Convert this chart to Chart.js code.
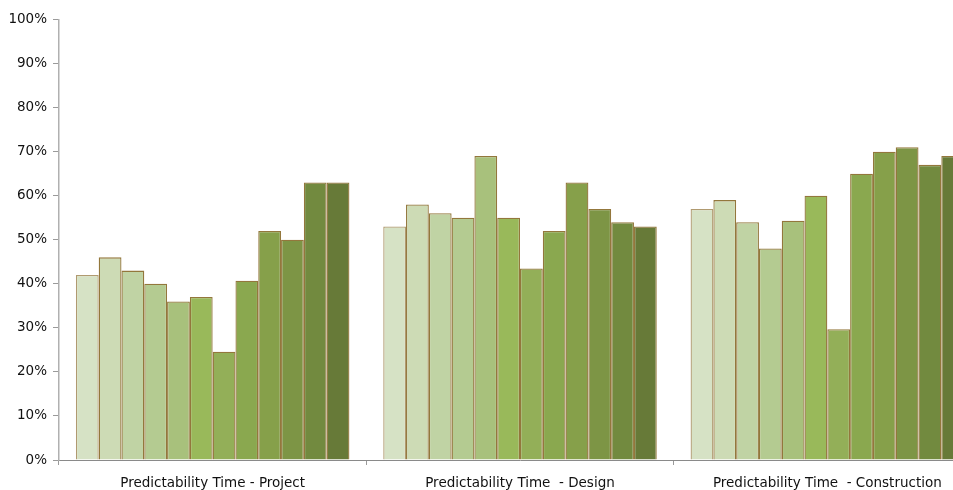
<!DOCTYPE html>
<html>
<head>
<meta charset="utf-8">
<script src="https://cdn.jsdelivr.net/npm/chart.js@4/dist/chart.umd.min.js"></script>
<style>
  html, body { margin: 0; padding: 0; background: #fff; overflow: hidden; }
  #wrap { position: relative; width: 985px; height: 490px; }
</style>
</head>
<body>
<div id="wrap"><canvas id="chart"></canvas></div>
<script>
// Categories along the x axis
const categories = [
  'Predictability Time - Project',
  'Predictability Time  - Design',
  'Predictability Time  - Construction'
];

// Twelve series, one bar per category each (percent)
const series01 = [42.0, 53.0, 57.0];
const series02 = [46.0, 58.0, 59.0];
const series03 = [43.0, 56.0, 54.0];
const series04 = [40.0, 55.0, 48.0];
const series05 = [36.0, 69.0, 54.3];
const series06 = [37.0, 55.0, 60.0];
const series07 = [24.6, 43.5, 29.7];
const series08 = [40.7, 52.0, 65.0];
const series09 = [52.0, 63.0, 70.0];
const series10 = [50.0, 57.0, 71.0];
const series11 = [63.0, 54.0, 67.0];
const series12 = [63.0, 53.0, 69.0];

// Percent tick labels on the value axis
const yTicks = [0, 10, 20, 30, 40, 50, 60, 70, 80, 90, 100];

const allSeries = [series01, series02, series03, series04, series05, series06,
                   series07, series08, series09, series10, series11, series12];

// Light-to-dark green ramp
const fills = ['#d6e2c5', '#cddbb5', '#c0d3a4', '#b4cb91', '#a8c17c', '#99b95a',
               '#93af58', '#8aa84f', '#86a04a', '#7d9545', '#728a3f', '#677a38'];

const datasets = allSeries.map((vals, i) => ({
  label: 'Series ' + (i + 1),
  data: vals,
  backgroundColor: fills[i],
  borderColor: i === 0 ? '#b09a70' : '#93773c',
  borderWidth: 1.3,
  categoryPercentage: 0.89,
  barPercentage: 1.0
}));

Chart.defaults.font.family = '"DejaVu Sans", "Lucida Grande", sans-serif';
Chart.defaults.font.size = 13.5;
Chart.defaults.color = '#222';

new Chart(document.getElementById('chart'), {
  type: 'bar',
  data: { labels: categories, datasets },
  options: {
    responsive: true,
    maintainAspectRatio: false,
    animation: false,
    layout: { padding: { top: 19.5, right: 4, left: 0, bottom: 0 } },
    plugins: {
      legend: { display: false },
      tooltip: { enabled: false }
    },
    scales: {
      x: {
        grid: {
          display: true,
          drawOnChartArea: false,
          drawTicks: true,
          tickLength: 5,
          color: '#9a9a9a',
          offset: true
        },
        border: { display: true, color: '#8a8a8a', width: 1 },
        ticks: { padding: 10, color: '#111', maxRotation: 0, autoSkip: false },
        afterFit: (s) => { s.height = 30; }
      },
      y: {
        min: 0,
        max: 100,
        afterBuildTicks: (s) => { s.ticks = yTicks.map(v => ({ value: v })); },
        grid: {
          display: true,
          drawOnChartArea: false,
          drawTicks: true,
          tickLength: 6,
          color: '#9a9a9a'
        },
        border: { display: true, color: '#b0b0b0', width: 1.5 },
        ticks: {
          padding: 6,
          color: '#111',
          callback: (v) => v + '%'
        },
        afterFit: (s) => { s.width = 59; }
      }
    }
  }
});
</script>
</body>
</html>
